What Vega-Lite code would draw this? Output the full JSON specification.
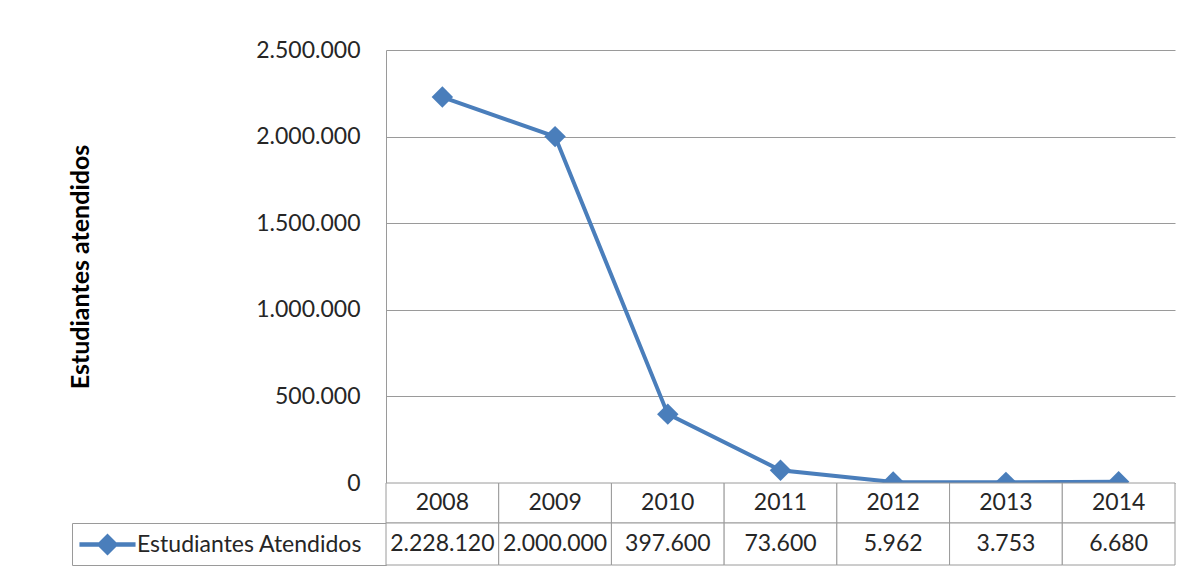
{
  "$schema": "https://vega.github.io/schema/vega-lite/v6.json",
  "background": "white",
  "padding": {"left": 68, "top": 39, "right": 0, "bottom": 0},
  "columns": 2,
  "spacing": 0,
  "bounds": "flush",
  "align": "each",
  "datasets": {
    "d": [
      {"year": "2008", "value": 2228120},
      {"year": "2009", "value": 2000000},
      {"year": "2010", "value": 397600},
      {"year": "2011", "value": 73600},
      {"year": "2012", "value": 5962},
      {"year": "2013", "value": 3753},
      {"year": "2014", "value": 6680}
    ]
  },
  "concat": [
    {
      "width": 314, "height": 433,
      "data": {"values": [{}]},
      "mark": {"type": "text", "text": ""},
      "encoding": {}
    },
    {
      "width": 789, "height": 433,
      "data": {"name": "d"},
      "encoding": {
        "x": {"field": "year", "type": "ordinal", "axis": null, "scale": {"type": "point", "padding": 0.5}},
        "y": {
          "field": "value", "type": "quantitative",
          "scale": {"domain": [0, 2500000], "nice": false},
          "axis": {
            "title": "Estudiantes atendidos",
            "values": [0, 500000, 1000000, 1500000, 2000000, 2500000],
            "format": ",d",
            "grid": true, "gridColor": "#9a9a9a", "gridWidth": 1,
            "domain": true, "domainColor": "#9a9a9a",
            "ticks": false, "tickSize": 0,
            "labelPadding": 26,
            "labelFont": "Lato", "labelFontSize": 23, "labelColor": "#262626",
            "titleFont": "Lato", "titleFontSize": 25, "titleFontWeight": "bold", "titleColor": "#000000",
            "titlePadding": 162
          }
        }
      },
      "layer": [
        {"mark": {"type": "line", "color": "#4A7EBB", "strokeWidth": 4}},
        {"mark": {"type": "point", "shape": "diamond", "filled": true, "size": 460, "color": "#4A7EBB", "opacity": 1}}
      ]
    },
    {
      "width": 314, "height": 40,
      "data": {"values": [{}]},
      "mark": {"type": "text", "text": ""},
      "encoding": {}
    },
    {
      "width": 789, "height": 40,
      "data": {"name": "d"},
      "encoding": {
        "x": {"field": "year", "type": "ordinal", "axis": null, "scale": {"type": "band", "paddingInner": 0, "paddingOuter": 0}}
      },
      "layer": [
        {"mark": {"type": "rect", "fill": "white", "stroke": "#9a9a9a", "strokeWidth": 1}},
        {"mark": {"type": "text", "font": "Lato", "fontSize": 23, "color": "#262626"}, "encoding": {"text": {"field": "year"}}}
      ]
    },
    {
      "width": 314, "height": 42,
      "view": {"stroke": "#9a9a9a", "strokeWidth": 1},
      "data": {"values": [{"serie": "Estudiantes Atendidos"}]},
      "mark": {"type": "point", "filled": true, "opacity": 0, "size": 484},
      "encoding": {
        "color": {
          "field": "serie", "type": "nominal",
          "scale": {"range": ["#4A7EBB"]},
          "legend": {
            "title": null,
            "orient": "top-left",
            "offset": 0,
            "padding": 10,
            "symbolType": "M-2.55,-0.2L2.55,-0.2L2.55,0.2L-2.55,0.2ZM-1,0L0,-1L1,0L0,1Z",
            "symbolSize": 484,
            "symbolOpacity": 1,
            "symbolFillColor": "#4A7EBB",
            "symbolStrokeWidth": 0,
            "symbolOffset": 14,
            "labelOffset": 18,
            "labelFont": "Lato", "labelFontSize": 23, "labelColor": "#262626",
            "labelLimit": 0
          }
        }
      }
    },
    {
      "width": 789, "height": 42,
      "data": {"name": "d"},
      "encoding": {
        "x": {"field": "year", "type": "ordinal", "axis": null, "scale": {"type": "band", "paddingInner": 0, "paddingOuter": 0}}
      },
      "layer": [
        {"mark": {"type": "rect", "fill": "white", "stroke": "#9a9a9a", "strokeWidth": 1}},
        {"mark": {"type": "text", "font": "Lato", "fontSize": 23, "color": "#262626"}, "encoding": {"text": {"field": "value", "format": ",d"}}}
      ]
    }
  ],
  "resolve": {
    "scale": {"x": "independent", "color": "independent"},
    "legend": {"color": "independent"}
  },
  "config": {
    "view": {"stroke": null},
    "locale": {"number": {"decimal": ",", "thousands": ".", "grouping": [3], "currency": ["$", ""]}}
  }
}
